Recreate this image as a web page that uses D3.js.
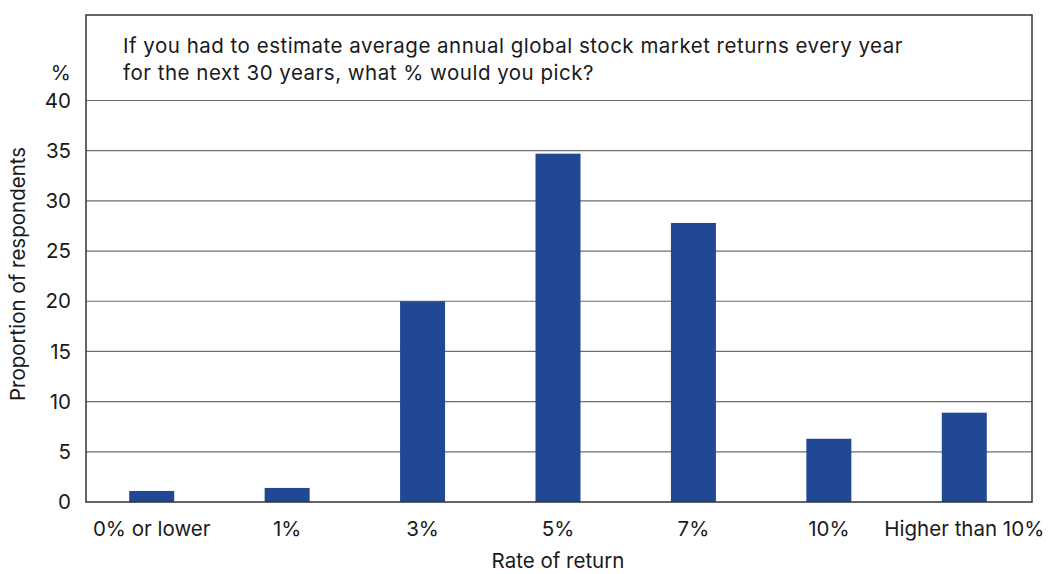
<!DOCTYPE html>
<html>
<head>
<meta charset="utf-8">
<script src="https://cdn.jsdelivr.net/npm/d3@7"></script>
<style>
  body { margin: 0; background: #fff; }
  text { font-family: "Inter", "Noto Sans", sans-serif; fill: #1a1a1a; }
</style>
</head>
<body>
<div id="root"></div>
<script>
const categories = ["0% or lower", "1%", "3%", "5%", "7%", "10%", "Higher than 10%"];
const shares = [1.1, 1.4, 20.0, 34.7, 27.8, 6.3, 8.9];
const yTicks = [0, 5, 10, 15, 20, 25, 30, 35, 40];
const titleLines = [
  "If you had to estimate average annual global stock market returns every year",
  "for the next 30 years, what % would you pick?",
];

const width = 1050;
const height = 574;
const frame = { left: 86, right: 1032, top: 15, bottom: 502 };
const barWidth = 45;
const fontSize = "20.5px";

const svg = d3.select("#root")
  .append("svg")
  .attr("width", width)
  .attr("height", height)
  .attr("viewBox", `0 0 ${width} ${height}`);

const xScale = d3.scaleBand()
  .domain(categories)
  .range([84, 1032]);

const yScale = d3.scaleLinear()
  .domain([0, 40])
  .range([frame.bottom, 100.5]);

// gridlines
svg.append("g")
  .selectAll("line")
  .data(yTicks.filter((d) => d > 0))
  .join("line")
  .attr("x1", frame.left)
  .attr("x2", frame.right)
  .attr("y1", (d) => yScale(d))
  .attr("y2", (d) => yScale(d))
  .attr("stroke", "#6e6e6e")
  .attr("stroke-width", 1.2);

// bars
svg.append("g")
  .selectAll("rect")
  .data(shares)
  .join("rect")
  .attr("x", (d, i) => xScale(categories[i]) + xScale.bandwidth() / 2 - barWidth / 2)
  .attr("width", barWidth)
  .attr("y", (d) => yScale(d))
  .attr("height", (d) => yScale(0) - yScale(d))
  .attr("fill", "#214895");

// frame
svg.append("rect")
  .attr("x", frame.left)
  .attr("y", frame.top)
  .attr("width", frame.right - frame.left)
  .attr("height", frame.bottom - frame.top)
  .attr("fill", "none")
  .attr("stroke", "#333")
  .attr("stroke-width", 1.5);

// y axis
const leftAxis = d3.axisLeft(yScale).tickValues(yTicks).tickSize(0).tickPadding(15);
const yAxis = svg.append("g")
  .attr("transform", `translate(${frame.left}, 0)`)
  .call(leftAxis);
yAxis.select(".domain").remove();
yAxis.selectAll("text")
  .style("font-size", fontSize)
  .attr("fill", "#1a1a1a");

svg.append("text")
  .attr("x", 71)
  .attr("y", 80)
  .attr("text-anchor", "end")
  .style("font-size", fontSize)
  .text("%");

// x axis
const bottomAxis = d3.axisBottom(xScale).tickSize(0).tickPadding(19);
const xAxis = svg.append("g")
  .attr("transform", `translate(0, ${frame.bottom})`)
  .call(bottomAxis);
xAxis.select(".domain").remove();
xAxis.selectAll("text")
  .style("font-size", fontSize)
  .attr("fill", "#1a1a1a");

// axis titles
svg.append("text")
  .attr("transform", "translate(25, 274) rotate(-90)")
  .attr("text-anchor", "middle")
  .style("font-size", fontSize)
  .text("Proportion of respondents");

svg.append("text")
  .attr("x", 558)
  .attr("y", 568)
  .attr("text-anchor", "middle")
  .style("font-size", fontSize)
  .text("Rate of return");

// question
svg.append("g")
  .selectAll("text")
  .data(titleLines)
  .join("text")
  .attr("x", 123)
  .attr("y", (d, i) => 53 + i * 27)
  .style("font-size", fontSize)
  .style("letter-spacing", "0.5px")
  .text((d) => d);
</script>
</body>
</html>
